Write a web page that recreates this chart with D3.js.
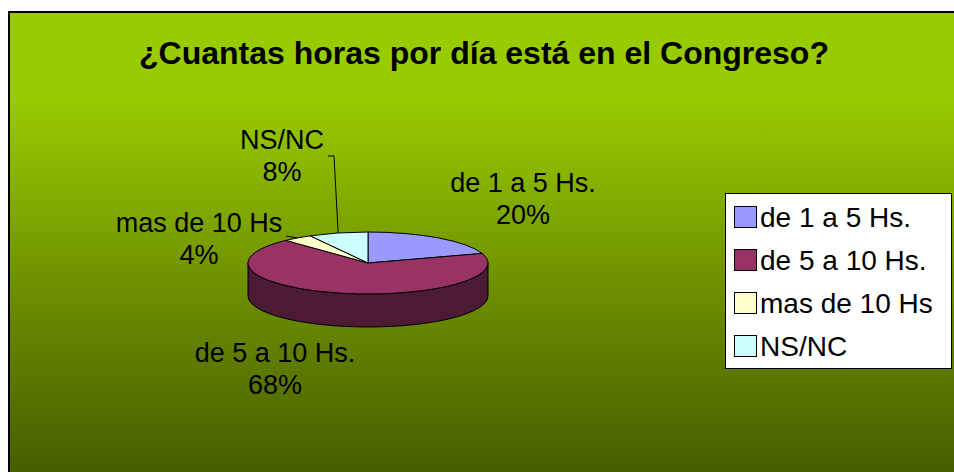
<!DOCTYPE html>
<html>
<head>
<meta charset="utf-8">
<script src="https://cdn.jsdelivr.net/npm/d3@7"></script>
<style>
  body { margin: 0; background: #fff; }
  svg { display: block; font-family: "Liberation Sans", Arial, sans-serif; }
</style>
</head>
<body>
<script>
// Chart data
var chartTitle = '¿Cuantas horas por día está en el Congreso?';
var categories = ['de 1 a 5 Hs.', 'de 5 a 10 Hs.', 'mas de 10 Hs', 'NS/NC'];
var percents = [20, 68, 4, 8];

// Slice colours (top face / side face)
var topColors = ['#9999ff', '#993366', '#ffffcc', '#ccffff'];
var sideColors = ['#5c5c99', '#4d1a36', '#99997a', '#7a9999'];

// Layout
var width = 954, height = 472;
var pieCenter = { x: 368, y: 263 };
var rx = 120, ry = 31, depth = 33;

// label anchors: [x, baseline of first line], per category
var labelPos = [[523, 192], [275, 362], [199, 232], [282, 149]];
// where each leader line leaves its label (null = no leader)
var leaderFrom = [null, null, [[286, 236]], [[328, 156], [334, 156]]];

var svg = d3.select('body').append('svg')
  .attr('width', width)
  .attr('height', height);

// Background gradient
var defs = svg.append('defs');
var grad = defs.append('linearGradient')
  .attr('id', 'bg')
  .attr('gradientUnits', 'userSpaceOnUse')
  .attr('x1', 0).attr('y1', 12).attr('x2', 0).attr('y2', 472);
grad.append('stop').attr('offset', 0).attr('stop-color', '#99cc00');
grad.append('stop').attr('offset', 0.17).attr('stop-color', '#99cc00');
grad.append('stop').attr('offset', 0.33).attr('stop-color', '#8ab700');
grad.append('stop').attr('offset', 0.62).attr('stop-color', '#6c8c00');
grad.append('stop').attr('offset', 1).attr('stop-color', '#475e00');

svg.append('rect')
  .attr('x', 9).attr('y', 12)
  .attr('width', 960).attr('height', 480)
  .attr('fill', 'url(#bg)')
  .attr('stroke', '#000')
  .attr('stroke-width', 2);

// Title
svg.append('text')
  .attr('x', 484).attr('y', 64)
  .attr('text-anchor', 'middle')
  .style('font-size', '32px')
  .style('font-weight', 'bold')
  .text(chartTitle);

// Pie angles
var pie = d3.pie().sort(null).startAngle(0).endAngle(2 * Math.PI);
var arcs = pie(percents);

var pt = function(a, dz) {
  return [pieCenter.x + rx * Math.sin(a), pieCenter.y - ry * Math.cos(a) + (dz || 0)];
};

// Side faces (only the front half is visible)
var pieG = svg.append('g');
arcs.forEach(function(d, i) {
  var s = Math.max(d.startAngle, Math.PI / 2);
  var e = Math.min(d.endAngle, 3 * Math.PI / 2);
  if (e <= s) return;
  var p0 = pt(s), p1 = pt(e), p2 = pt(e, depth), p3 = pt(s, depth);
  var path = 'M' + p0 + ' A' + rx + ' ' + ry + ' 0 0 1 ' + p1 +
    ' L' + p2 + ' A' + rx + ' ' + ry + ' 0 0 0 ' + p3 + ' Z';
  pieG.append('path')
    .attr('d', path)
    .attr('fill', sideColors[i])
    .attr('stroke', '#000')
    .attr('stroke-width', 1);
});

// Top faces
arcs.forEach(function(d, i) {
  var p0 = pt(d.startAngle), p1 = pt(d.endAngle);
  var large = (d.endAngle - d.startAngle) > Math.PI ? 1 : 0;
  var path = 'M' + pieCenter.x + ',' + pieCenter.y + ' L' + p0 +
    ' A' + rx + ' ' + ry + ' 0 ' + large + ' 1 ' + p1 + ' Z';
  pieG.append('path')
    .attr('d', path)
    .attr('fill', topColors[i])
    .attr('stroke', '#000')
    .attr('stroke-width', 1);
});

// Leader lines
arcs.forEach(function(d, i) {
  if (!leaderFrom[i]) return;
  var mid = (d.startAngle + d.endAngle) / 2;
  var pts = leaderFrom[i].concat([pt(mid)]);
  svg.append('path')
    .attr('d', d3.line()(pts))
    .attr('fill', 'none')
    .attr('stroke', '#000')
    .attr('stroke-width', 1);
});

// Data labels
arcs.forEach(function(d, i) {
  var t = svg.append('text')
    .attr('text-anchor', 'middle')
    .style('font-size', '27px');
  t.append('tspan').attr('x', labelPos[i][0]).attr('y', labelPos[i][1]).text(categories[i]);
  t.append('tspan').attr('x', labelPos[i][0]).attr('dy', 32).text(percents[i] + '%');
});

// Legend
var legend = svg.append('g');
legend.append('rect')
  .attr('x', 725.5).attr('y', 193.5)
  .attr('width', 226).attr('height', 175)
  .attr('fill', '#fff')
  .attr('stroke', '#000')
  .attr('stroke-width', 1);

var legendY = d3.scalePoint().domain(categories).range([217, 346]);
categories.forEach(function(c, i) {
  var y = legendY(c);
  legend.append('rect')
    .attr('x', 734.5).attr('y', y - 10.5)
    .attr('width', 22).attr('height', 21)
    .attr('fill', topColors[i])
    .attr('stroke', '#000')
    .attr('stroke-width', 1);
  legend.append('text')
    .attr('x', 760).attr('y', y + 10)
    .style('font-size', '28px')
    .text(c);
});
</script>
</body>
</html>
